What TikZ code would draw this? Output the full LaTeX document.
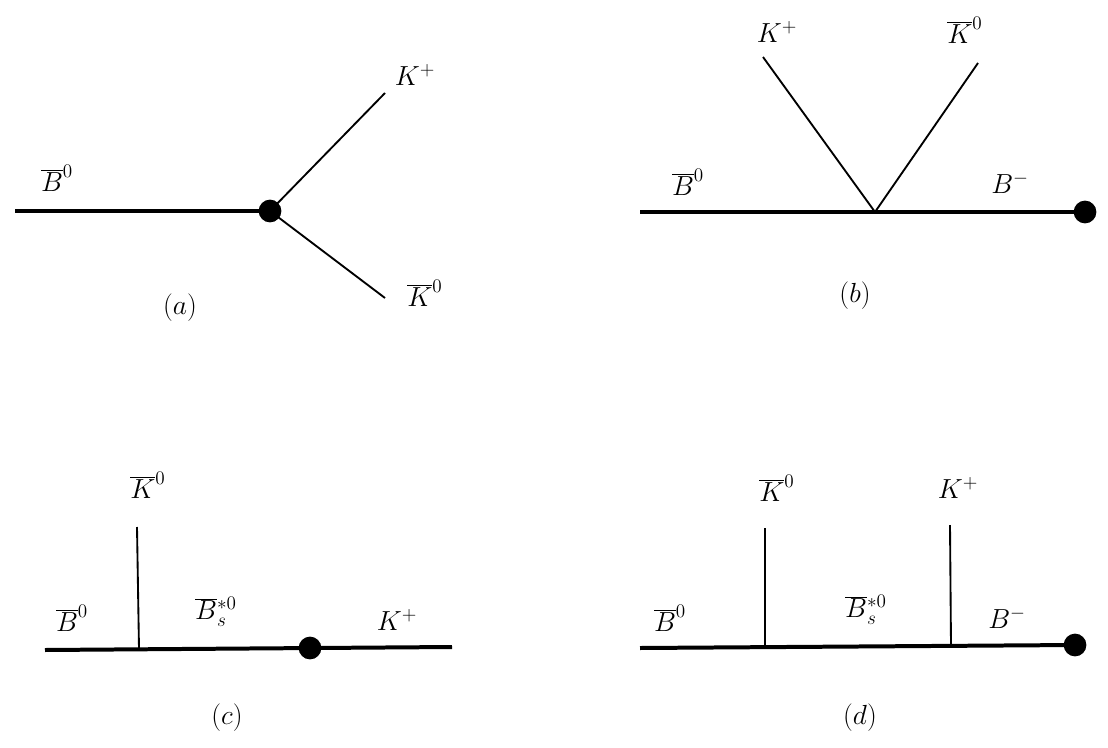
\documentclass[tikz,border=0pt]{standalone}
\begin{document}
\begin{tikzpicture}[x=0.0264cm,y=-0.0264cm,
  thk/.style={line width=3pt},
  thn/.style={line width=1.4pt},
  dot/.style={circle,fill=black,inner sep=0pt,minimum size=0.6cm},
  lab/.style={font=\fontsize{20}{24}\selectfont}]
\useasboundingbox (0,0) rectangle (1108,748);
% (a)
\coordinate (a0) at (15,211); \node[dot] (av) at (270,211) {};
\coordinate (a1) at (385,93); \coordinate (a2) at (385,298);
\draw[thk] (a0) -- (av.center);
\draw[thn] (av.center) -- (a1); \draw[thn] (av.center) -- (a2);
\node[lab] (la0) at (57,178) {$\overline{B}^0$};
\node[lab] (la1) at (415,75) {$K^+$};
\node[lab] (la2) at (425,293) {$\overline{K}^0$};
\node[lab] (la) at (180,308) {$(a)$};
% (b)
\coordinate (b0) at (640,212); \node[dot] (bd) at (1085,212) {};
\coordinate (bv) at (875,212);
\coordinate (b1) at (763,57); \coordinate (b2) at (978,63);
\draw[thk] (b0) -- (bd.center);
\draw[thn] (bv) -- (b1); \draw[thn] (bv) -- (b2);
\node[lab] (lb1) at (777,32) {$K^+$};
\node[lab] (lb2) at (965,30) {$\overline{K}^0$};
\node[lab] (lb0) at (688,182) {$\overline{B}^0$};
\node[lab] (lb3) at (1010,183) {$B^-$};
\node[lab] (lb) at (855,296) {$(b)$};
% (c)
\coordinate (c0) at (45,650); \coordinate (c1) at (452,647);
\node[dot] (cd) at (310,648) {};
\coordinate (cv) at (139,649); \coordinate (ct) at (137,527);
\draw[thk] (c0) -- (c1);
\draw[thn] (cv) -- (ct);
\node[lab] (lc1) at (148,485) {$\overline{K}^0$};
\node[lab] (lc0) at (72,618) {$\overline{B}^0$};
\node[lab] (lc2) at (216,612) {$\overline{B}{}_s^{*0}$};
\node[lab] (lc3) at (397,620) {$K^+$};
\node[lab] (lc) at (227,718) {$(c)$};
% (d)
\coordinate (d0) at (640,648); \node[dot] (dd) at (1075,645) {};
\coordinate (dv1) at (765,647); \coordinate (dt1) at (765,528);
\coordinate (dv2) at (951,646); \coordinate (dt2) at (950,525);
\draw[thk] (d0) -- (dd.center);
\draw[thn] (dv1) -- (dt1); \draw[thn] (dv2) -- (dt2);
\node[lab] (ld1) at (777,488) {$\overline{K}^0$};
\node[lab] (ld2) at (958,488) {$K^+$};
\node[lab] (ld0) at (670,618) {$\overline{B}^0$};
\node[lab] (ld3) at (866,610) {$\overline{B}{}_s^{*0}$};
\node[lab] (ld4) at (1007,618) {$B^-$};
\node[lab] (ld) at (860,718) {$(d)$};
\end{tikzpicture}
\end{document}
